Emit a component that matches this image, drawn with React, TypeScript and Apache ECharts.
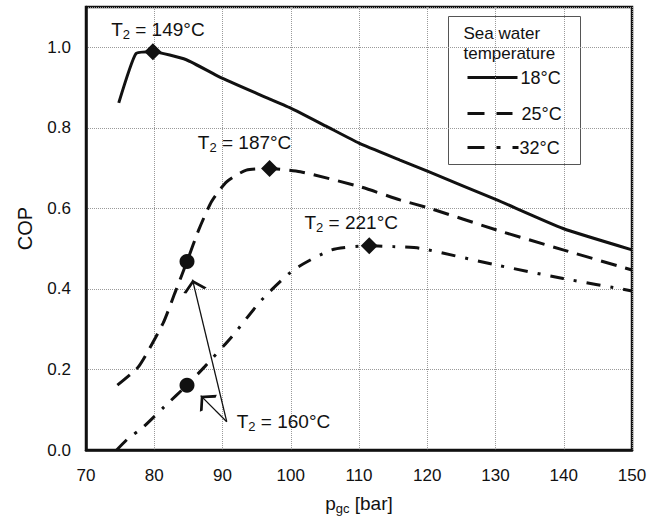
import React, { useEffect, useRef } from 'react';
import * as echarts from 'echarts';

// Pressure (bar) and COP values
const p18 = [74.8, 77.3, 79.8, 84.7, 89.6, 95.5, 100, 105.3, 110, 116, 120.2, 130.2, 139.9, 150];
const cop18 = [0.862, 0.984, 0.989, 0.969, 0.926, 0.882, 0.849, 0.803, 0.762, 0.72, 0.691, 0.621, 0.55, 0.497];

const p25 = [74.6, 77.7, 81.3, 83.0, 84.8, 86.5, 88.4, 90.6, 93.5, 96.9, 101.4, 110.1, 116, 120.4, 130.2, 139.9, 150];
const cop25 = [0.161, 0.207, 0.315, 0.389, 0.468, 0.546, 0.617, 0.666, 0.695, 0.699, 0.691, 0.654, 0.621, 0.6, 0.546, 0.497, 0.447];

const p32 = [74.5, 76.2, 78.2, 81.5, 84.8, 87.4, 91.6, 95.7, 100.4, 106, 111.5, 115, 118.9, 130.2, 139.9, 150];
const cop32 = [0.0, 0.029, 0.054, 0.108, 0.161, 0.207, 0.286, 0.372, 0.447, 0.497, 0.507, 0.505, 0.501, 0.459, 0.426, 0.395];

// Optimum points (diamonds) with their T2 labels
const peakP = [79.8, 96.9, 111.5];
const peakCOP = [0.989, 0.699, 0.507];
const peakT2 = [149, 187, 221];

// T2 = 160°C points (circles)
const circleP = [84.8, 84.8];
const circleCOP = [0.468, 0.161];
const circleT2 = 160;

// Arrow annotation (data coordinates)
const arrowStart = [90.62, 0.0703];
const arrowTipsP = [85.6, 86.8];
const arrowTipsCOP = [0.423, 0.135];

const legendTitle = ['Sea water', 'temperature'];
const legendLabels = ['18°C', '25°C', '32°C'];

const FONT = "'Liberation Sans', Arial, Helvetica, sans-serif";
const INK = '#111111';

const ARROW =
  'path://M5,11 L10,20.6 L8.8,21.6 L5,14.2 L1.2,21.6 L0,20.6 Z M5,0 L5.02,0 L5.02,0.02 Z';

const zip = (a: number[], b: number[]) => a.map((v, i) => [v, b[i]]);

const rich = {
  t: { fontSize: 19, fontFamily: FONT, color: INK },
  s: { fontSize: 13, fontFamily: FONT, color: INK, padding: [10, 0, 0, 0] },
};
const t2Label = (t: number) => `{t|T}{s|2}{t| = ${t}°C}`;

const peakOffsets = [
  [5, -22],
  [-25, -26],
  [-18, -23],
];

export default function App() {
  const ref = useRef<HTMLDivElement>(null);

  useEffect(() => {
    if (!ref.current) return;
    const chart = echarts.init(ref.current, undefined, { renderer: 'svg' });

    const lx = 448;
    const ly = 16;
    const option: any = {
      animation: false,
      backgroundColor: '#ffffff',
      textStyle: { fontFamily: FONT },
      grid: {
        left: 86,
        right: 32,
        top: 7,
        bottom: 70,
        show: true,
        borderColor: INK,
        borderWidth: 2.5,
        backgroundColor: 'transparent',
      },
      xAxis: {
        type: 'value',
        min: 70,
        max: 150,
        interval: 10,
        name: '{a|p}{b|gc}{a| [bar]}',
        nameLocation: 'middle',
        nameGap: 42,
        nameTextStyle: {
          rich: {
            a: { fontSize: 19, fontFamily: FONT, color: INK },
            b: { fontSize: 13, fontFamily: FONT, color: INK, padding: [10, 0, 0, 0] },
          },
        },
        axisLine: { show: true, lineStyle: { color: INK, width: 2.5 } },
        axisTick: { show: false },
        axisLabel: { color: INK, fontSize: 17, fontFamily: FONT, margin: 17 },
        splitLine: { show: true, lineStyle: { type: 'dotted', color: '#9a9a9a', width: 1 } },
      },
      yAxis: {
        type: 'value',
        min: 0,
        max: 1.1,
        interval: 0.2,
        name: 'COP',
        nameLocation: 'middle',
        nameGap: 51,
        nameTextStyle: { fontSize: 20, fontFamily: FONT, color: INK },
        axisLine: { show: true, lineStyle: { color: INK, width: 2.5 } },
        axisTick: { show: false },
        axisLabel: {
          color: INK,
          fontSize: 17,
          fontFamily: FONT,
          margin: 15,
          showMaxLabel: false,
          formatter: (v: number) => v.toFixed(1),
        },
        splitLine: { show: true, lineStyle: { type: 'dotted', color: '#9a9a9a', width: 1 } },
      },
      series: [
        {
          name: legendLabels[0],
          type: 'line',
          data: zip(p18, cop18),
          showSymbol: false,
          smooth: 0.15,
          lineStyle: { color: INK, width: 3 },
          z: 3,
        },
        {
          name: legendLabels[1],
          type: 'line',
          data: zip(p25, cop25),
          showSymbol: false,
          smooth: 0.2,
          lineStyle: { color: INK, width: 3, type: [16, 9] },
          z: 3,
        },
        {
          name: legendLabels[2],
          type: 'line',
          data: zip(p32, cop32),
          showSymbol: false,
          smooth: 0.2,
          lineStyle: { color: INK, width: 3, type: [14, 10, 3, 10] },
          z: 3,
        },
        {
          type: 'scatter',
          data: zip(circleP, circleCOP),
          symbol: 'circle',
          symbolSize: 15,
          itemStyle: { color: INK, opacity: 1 },
          z: 6,
          silent: true,
        },
        {
          type: 'scatter',
          data: peakP.map((p, i) => ({
            value: [p, peakCOP[i]],
            label: {
              show: true,
              position: 'inside',
              offset: peakOffsets[i],
              formatter: t2Label(peakT2[i]),
              color: INK,
              rich,
            },
          })),
          symbol: 'diamond',
          symbolSize: 17,
          itemStyle: { color: INK, opacity: 1 },
          z: 6,
          silent: true,
        },
        {
          type: 'scatter',
          data: [arrowStart],
          symbolSize: 0,
          itemStyle: { color: INK, opacity: 1 },
          label: {
            show: true,
            position: 'right',
            distance: 10,
            offset: [0, 0],
            formatter: t2Label(circleT2),
            color: INK,
            rich,
          },
          z: 6,
          silent: true,
        },
        {
          type: 'lines',
          coordinateSystem: 'cartesian2d',
          data: arrowTipsP.map((p, i) => ({ coords: [arrowStart, [p, arrowTipsCOP[i]]] })),
          symbol: ['none', ARROW],
          symbolSize: [8, 24],
          lineStyle: { color: INK, width: 1.3, opacity: 1, curveness: 0 },
          z: 5,
          silent: true,
        },
      ],
      graphic: [
        {
          type: 'group',
          left: lx,
          top: ly,
          z: 100,
          children: [
            {
              type: 'rect',
              shape: { x: 0, y: 0, width: 132, height: 148 },
              style: { fill: '#ffffff', stroke: '#555555', lineWidth: 1 },
            },
            {
              type: 'text',
              x: 15,
              y: 17,
              style: { text: legendTitle[0], font: `17px ${FONT}`, fill: INK, verticalAlign: 'middle' },
            },
            {
              type: 'text',
              x: 15,
              y: 37,
              style: { text: legendTitle[1], font: `17px ${FONT}`, fill: INK, verticalAlign: 'middle' },
            },
            {
              type: 'line',
              shape: { x1: 19, y1: 61, x2: 69, y2: 61 },
              style: { stroke: INK, lineWidth: 3 },
            },
            {
              type: 'text',
              x: 72,
              y: 61,
              style: { text: legendLabels[0], font: `18px ${FONT}`, fill: INK, verticalAlign: 'middle' },
            },
            {
              type: 'line',
              shape: { x1: 19, y1: 97, x2: 64, y2: 97 },
              style: { stroke: INK, lineWidth: 3, lineDash: [17, 12] },
            },
            {
              type: 'text',
              x: 73,
              y: 97,
              style: { text: legendLabels[1], font: `18px ${FONT}`, fill: INK, verticalAlign: 'middle' },
            },
            {
              type: 'line',
              shape: { x1: 19, y1: 131, x2: 70, y2: 131 },
              style: { stroke: INK, lineWidth: 3, lineDash: [17, 12, 4, 12] },
            },
            {
              type: 'text',
              x: 71,
              y: 131,
              style: { text: legendLabels[2], font: `18px ${FONT}`, fill: INK, verticalAlign: 'middle' },
            },
          ],
        },
      ],
    };

    chart.setOption(option);
    return () => chart.dispose();
  }, []);

  return (
    <div
      ref={ref}
      style={{ position: 'fixed', left: 0, top: 0, width: 664, height: 520, background: '#fff' }}
    />
  );
}
